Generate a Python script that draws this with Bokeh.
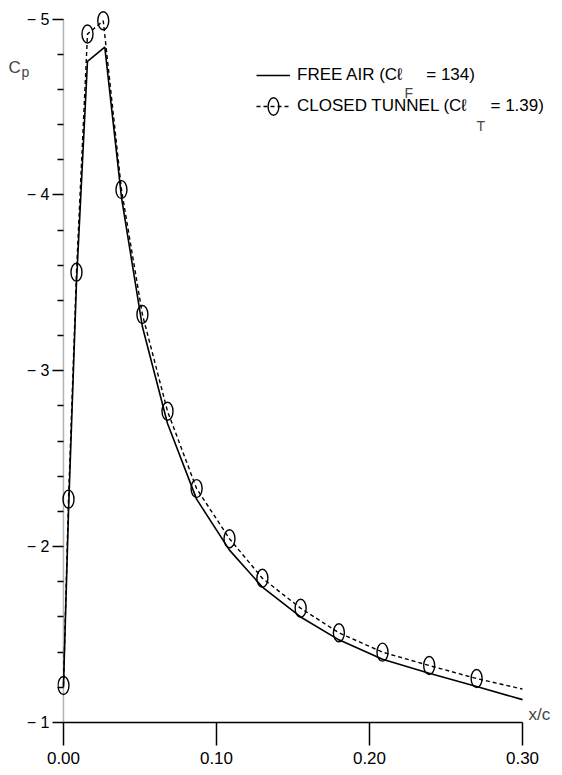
from bokeh.plotting import figure
from bokeh.models import Range1d, Legend, LegendItem, Label, FixedTicker, BoxAnnotation
from bokeh.embed import file_html
from bokeh.resources import INLINE

# ---- data ----
x_free = [0.0, 0.0033, 0.0085, 0.0157, 0.027, 0.038, 0.0516, 0.068, 0.087,
          0.1085, 0.130, 0.155, 0.180, 0.2085, 0.239, 0.270, 0.300]
cp_free = [-1.20, -2.20, -3.50, -4.76, -4.84, -3.98, -3.25, -2.70, -2.27,
           -1.98, -1.77, -1.60, -1.47, -1.36, -1.28, -1.205, -1.13]

x_tunnel = [0.0, 0.0033, 0.0085, 0.0157, 0.026, 0.0379, 0.0516, 0.068, 0.087,
            0.1085, 0.130, 0.155, 0.180, 0.2085, 0.239, 0.270]
cp_tunnel = [-1.21, -2.27, -3.56, -4.915, -4.99, -4.03, -3.32, -2.77, -2.33,
             -2.045, -1.82, -1.65, -1.51, -1.40, -1.324, -1.25]
x_tunnel_line = [0.0, 0.0033, 0.0085, 0.0157, 0.026, 0.0379, 0.0516, 0.068, 0.087,
                 0.1085, 0.130, 0.155, 0.180, 0.2085, 0.239, 0.270, 0.300]
cp_tunnel_line = [-1.21, -2.27, -3.56, -4.915, -4.99, -4.03, -3.32, -2.77, -2.33,
                  -2.045, -1.82, -1.65, -1.51, -1.40, -1.324, -1.25, -1.19]

x_ticks = [0.0, 0.1, 0.2, 0.3]
x_tick_labels = ["0.00", "0.10", "0.20", "0.30"]
y_ticks = [-1, -2, -3, -4, -5]
y_tick_labels = ["\u2212 1", "\u2212 2", "\u2212 3", "\u2212 4", "\u2212 5"]
y_minor = [-1.2, -1.4, -1.6, -1.8, -2.2, -2.4, -2.6, -2.8, -3.2, -3.4, -3.6, -3.8,
           -4.2, -4.4, -4.6, -4.8]

FONT = "Liberation Sans"

# ranges padded slightly so markers at the edges and the legend are not cut;
# the axes themselves are bounded to 0..0.30 and -1..-5
p = figure(width=562, height=775, x_range=Range1d(-0.0039, 0.3196), y_range=Range1d(-1, -5.06),
           output_backend="svg", toolbar_location=None,
           min_border_left=57, min_border_right=10, min_border_top=8, min_border_bottom=53)
p.outline_line_color = None
p.xgrid.visible = False
p.ygrid.visible = False
p.background_fill_color = "white"
p.border_fill_color = "white"

xa = p.xaxis[0]
xa.ticker = FixedTicker(ticks=x_ticks, minor_ticks=[])
xa.bounds = (0, 0.30)
xa.major_label_overrides = dict(zip(x_ticks, x_tick_labels))
xa.major_tick_out = 23
xa.major_tick_in = 0
xa.minor_tick_out = 0
xa.minor_tick_in = 0
xa.axis_line_width = 1.5
xa.major_tick_line_width = 1.5
xa.major_label_standoff = 6
xa.major_label_text_font = FONT
xa.major_label_text_font_size = "17px"
xa.major_label_text_color = "black"

ya = p.yaxis[0]
ya.ticker = FixedTicker(ticks=y_ticks, minor_ticks=y_minor)
ya.bounds = (-5, -1)
ya.major_label_overrides = dict(zip(y_ticks, y_tick_labels))
ya.axis_line_color = None
ya.major_tick_out = 5
ya.major_tick_in = 6
ya.minor_tick_out = 0
ya.minor_tick_in = 6
ya.major_tick_line_width = 1.3
ya.minor_tick_line_width = 1.3
ya.major_label_standoff = 3
ya.major_label_text_font = FONT
ya.major_label_text_font_size = "16px"
ya.major_label_text_color = "black"

# y-axis line at x = 0
p.add_layout(BoxAnnotation(left=0, right=0, bottom=-5, top=-1, fill_alpha=0,
                           line_color="black", line_width=1.5))

free = p.line(x_free, cp_free, line_color="black", line_width=1.6)
tline = p.line(x_tunnel_line, cp_tunnel_line, line_color="black", line_width=1.4,
               line_dash="4 3")
tmark = p.ellipse(x_tunnel, cp_tunnel, width=11, height=18, width_units="screen",
                  height_units="screen", fill_color=None, line_color="black",
                  line_width=1.4)

legend = Legend(items=[LegendItem(label="FREE AIR (C\u2113     = 134)", renderers=[free]),
                       LegendItem(label="CLOSED TUNNEL (C\u2113     = 1.39)",
                                  renderers=[tline, tmark])],
                location=(199, 605), orientation="vertical",
                glyph_width=34, glyph_height=22, label_height=22, label_standoff=7,
                padding=0, spacing=9, margin=0,
                border_line_color=None, background_fill_alpha=0,
                label_text_font=FONT, label_text_font_size="17px", label_text_color="black")
p.add_layout(legend, "center")

# subscripts in legend
p.add_layout(Label(x=0.0, y=-5, x_offset=341, y_offset=-74, text="F",
                   text_font=FONT, text_font_size="14px", text_baseline="alphabetic"))
p.add_layout(Label(x=0.0, y=-5, x_offset=413, y_offset=-107, text="T",
                   text_font=FONT, text_font_size="14px", text_baseline="alphabetic"))

# axis titles
p.add_layout(Label(x=0.30, y=-1, x_offset=6, y_offset=8, text="x/c",
                   text_font=FONT, text_font_size="17px", text_baseline="middle"))
p.add_layout(Label(x=0.0, y=-5, x_offset=-55, y_offset=-48, text="C",
                   text_font=FONT, text_font_size="17px", text_baseline="alphabetic"), "left")
p.add_layout(Label(x=0.0, y=-5, x_offset=-42, y_offset=-53, text="p",
                   text_font=FONT, text_font_size="14px", text_baseline="alphabetic"), "left")

open("out.html", "w").write(file_html(p, INLINE))
